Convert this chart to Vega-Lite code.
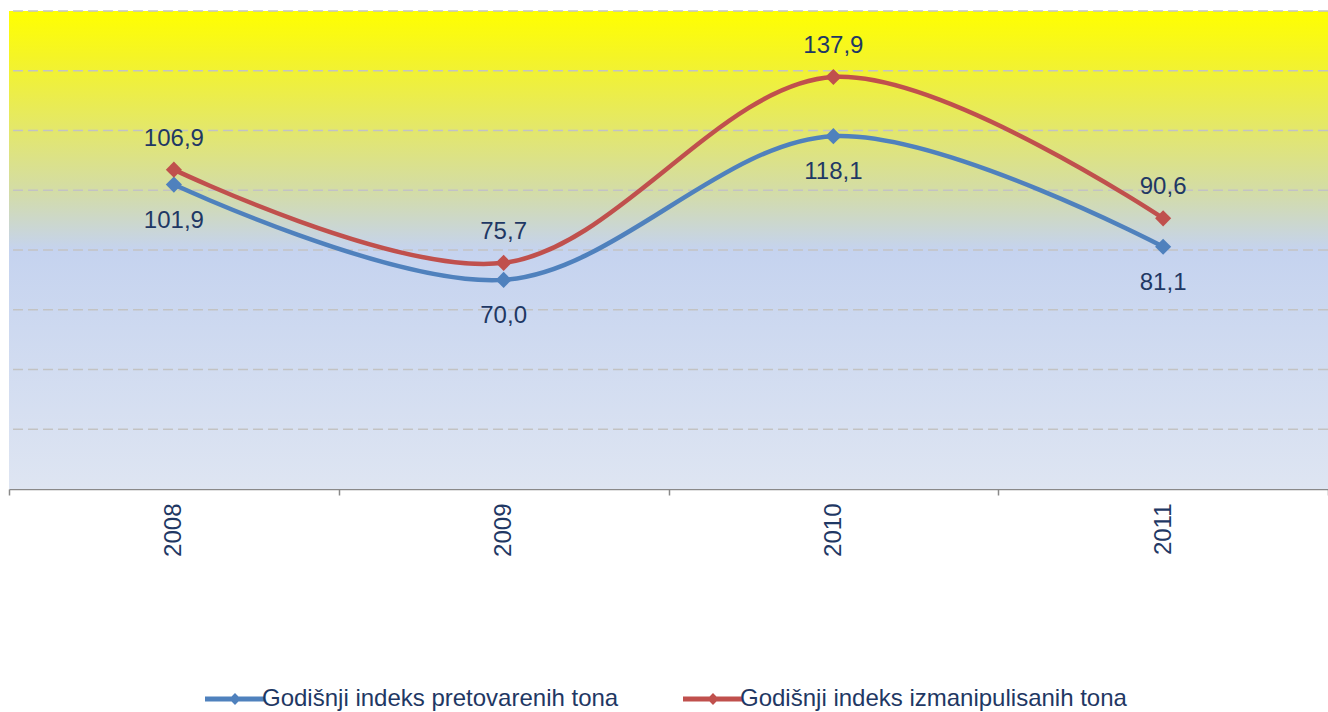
{
  "$schema": "https://vega.github.io/schema/vega-lite/v6.json",
  "width": 1319,
  "height": 478,
  "autosize": {"type": "none"},
  "padding": {"left": 9, "top": 11, "right": 0, "bottom": 223},
  "background": "white",
  "data": {
    "values": [
      {"year": "2008", "series": "Godišnji indeks pretovarenih tona", "value": 101.9},
      {"year": "2009", "series": "Godišnji indeks pretovarenih tona", "value": 70.0},
      {"year": "2010", "series": "Godišnji indeks pretovarenih tona", "value": 118.1},
      {"year": "2011", "series": "Godišnji indeks pretovarenih tona", "value": 81.1},
      {"year": "2008", "series": "Godišnji indeks izmanipulisanih tona", "value": 106.9},
      {"year": "2009", "series": "Godišnji indeks izmanipulisanih tona", "value": 75.7},
      {"year": "2010", "series": "Godišnji indeks izmanipulisanih tona", "value": 137.9},
      {"year": "2011", "series": "Godišnji indeks izmanipulisanih tona", "value": 90.6}
    ]
  },
  "layer": [
    {
      "data": {"values": [{"top": 160, "bottom": 0}]},
      "mark": {
        "type": "rect",
        "color": {
          "gradient": "linear",
          "x1": 0, "y1": 0, "x2": 0, "y2": 1,
          "stops": [
            {"offset": 0, "color": "#FFFF00"},
            {"offset": 0.1, "color": "#F4F428"},
            {"offset": 0.25, "color": "#E3E76C"},
            {"offset": 0.38, "color": "#D3DCA8"},
            {"offset": 0.5, "color": "#C5D3EF"},
            {"offset": 1, "color": "#DEE5F2"}
          ]
        }
      },
      "encoding": {
        "x": {"value": 0},
        "x2": {"value": "width"},
        "y": {"field": "top", "type": "quantitative", "scale": {"domain": [0, 160], "nice": false, "zero": true}, "axis": null},
        "y2": {"field": "bottom"}
      }
    },
    {
      "data": {"values": [{"g": 20}, {"g": 40}, {"g": 60}, {"g": 80}, {"g": 100}, {"g": 120}, {"g": 140}, {"g": 160}]},
      "mark": {"type": "rule", "color": "#C3C3C3", "strokeWidth": 1.3, "strokeDash": [10, 5]},
      "encoding": {
        "y": {"field": "g", "type": "quantitative", "axis": null}
      }
    },
    {
      "encoding": {
        "x": {
          "field": "year",
          "type": "nominal",
          "sort": ["2008", "2009", "2010", "2011"],
          "scale": {"paddingInner": 0, "paddingOuter": 0},
          "axis": {
            "title": null,
            "labelAngle": -90,
            "labelFontSize": 24,
            "labelFont": "Liberation Sans",
            "labelColor": "#1F3864",
            "labelPadding": 8,
            "tickBand": "extent",
            "tickSize": 6,
            "tickColor": "#898989",
            "tickWidth": 1.5,
            "domainColor": "#898989",
            "domainWidth": 1.5,
            "grid": false
          }
        },
        "y": {
          "field": "value",
          "type": "quantitative",
          "axis": null
        }
      },
      "layer": [
        {
          "mark": {"type": "line", "interpolate": "catmull-rom", "strokeWidth": 4.5},
          "encoding": {
            "color": {
              "field": "series",
              "type": "nominal",
              "scale": {
                "domain": ["Godišnji indeks pretovarenih tona", "Godišnji indeks izmanipulisanih tona"],
                "range": ["#4F81BD", "#C0504D"]
              },
              "legend": {
                "title": null,
                "orient": "none",
                "direction": "horizontal",
                "legendX": 211,
                "legendY": 673,
                "padding": 0,
                "symbolType": "M-2,-0.17L-0.23,-0.17L0,-0.4L0.23,-0.17L2,-0.17L2,0.17L0.23,0.17L0,0.4L-0.23,0.17L-2,0.17Z",
                "symbolSize": 900,
                "symbolStrokeWidth": 0,
                "labelOffset": 12,
                "columnPadding": 64,
                "labelFontSize": 24,
                "labelFont": "Liberation Sans",
                "labelColor": "#1F3864",
                "labelLimit": 600,
                "encode": {
                  "symbols": {
                    "update": {
                      "fill": {"scale": "color", "field": "value"},
                      "strokeWidth": {"value": 0},
                      "opacity": {"value": 1}
                    }
                  }
                }
              }
            }
          }
        },
        {
          "mark": {"type": "point", "shape": "diamond", "filled": true, "size": 260, "opacity": 1},
          "encoding": {
            "color": {"field": "series", "type": "nominal", "legend": null}
          }
        },
        {
          "transform": [{"filter": "datum.series === 'Godišnji indeks pretovarenih tona'"}],
          "mark": {"type": "text", "dy": 36, "fontSize": 24, "font": "Liberation Sans", "color": "#1F3864", "baseline": "middle"},
          "encoding": {
            "text": {"field": "value", "type": "quantitative", "format": ".1f"}
          }
        },
        {
          "transform": [{"filter": "datum.series === 'Godišnji indeks izmanipulisanih tona'"}],
          "mark": {"type": "text", "dy": -31, "fontSize": 24, "font": "Liberation Sans", "color": "#1F3864", "baseline": "middle"},
          "encoding": {
            "text": {"field": "value", "type": "quantitative", "format": ".1f"}
          }
        }
      ]
    }
  ],
  "config": {
    "view": {"stroke": null},
    "locale": {
      "number": {"decimal": ",", "thousands": ".", "grouping": [3], "currency": ["", " €"]}
    }
  }
}
